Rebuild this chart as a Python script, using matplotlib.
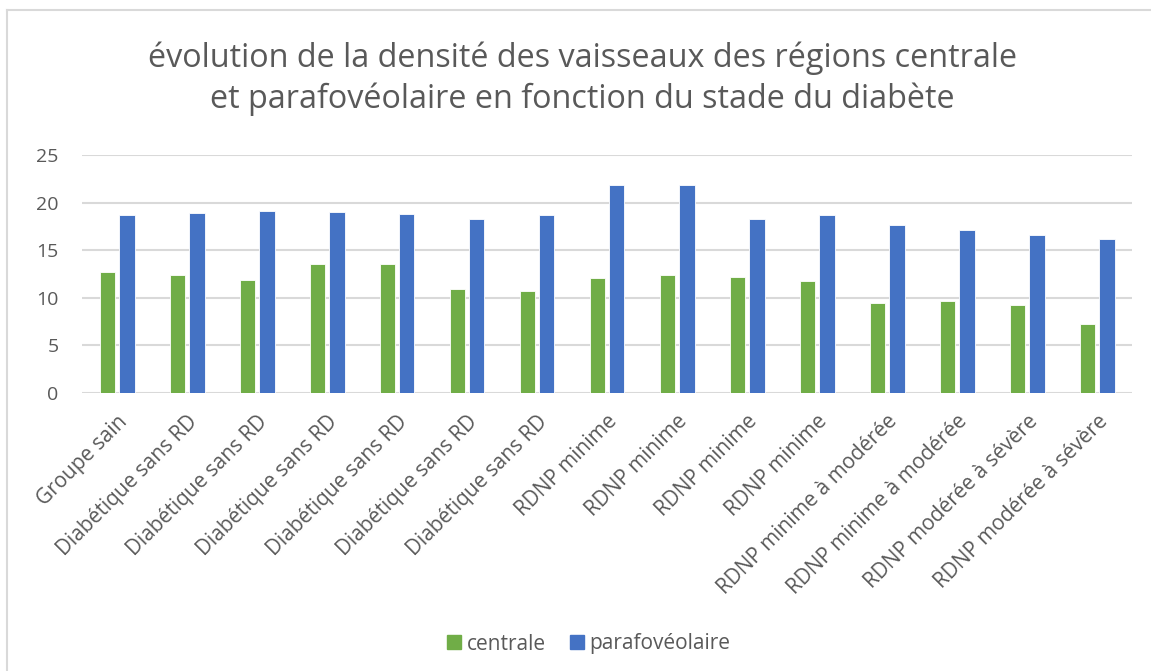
import numpy as np
import matplotlib.pyplot as plt
from matplotlib.lines import Line2D

plt.rcParams['font.family'] = ['Open Sans', 'DejaVu Sans']

categories = ['Groupe sain', 'Diabétique sans RD', 'Diabétique sans RD',
              'Diabétique sans RD', 'Diabétique sans RD', 'Diabétique sans RD',
              'Diabétique sans RD', 'RDNP minime', 'RDNP minime', 'RDNP minime',
              'RDNP minime', 'RDNP minime à modérée', 'RDNP minime à modérée',
              'RDNP modérée à sévère', 'RDNP modérée à sévère']
centrale = [12.7, 12.4, 11.9, 13.6, 13.6, 10.9, 10.7, 12.1, 12.4, 12.2,
            11.8, 9.5, 9.7, 9.2, 7.3]
parafoveolaire = [18.7, 18.9, 19.1, 19.0, 18.8, 18.3, 18.7, 21.8, 21.8, 18.3,
                  18.7, 17.6, 17.1, 16.6, 16.2]
yticks = [0, 5, 10, 15, 20, 25]

grey = '#595959'
fig = plt.figure(figsize=(11.51, 6.71), dpi=100)
ax = fig.add_axes([82/1151, 1-393/671, 1050/1151, 238/671])

x = np.arange(len(categories))
w = 0.22
ax.bar(x - 0.14, centrale, w, color='#70AD47', edgecolor='white', linewidth=0.6,
       label='centrale', zorder=3)
ax.bar(x + 0.14, parafoveolaire, w, color='#4472C4', edgecolor='white', linewidth=0.6,
       label='parafovéolaire', zorder=3)

ax.set_xlim(-0.5, len(categories) - 0.5)
ax.set_ylim(0, 25)
ax.set_yticks(yticks)
ax.grid(axis='y', color='#d9d9d9', linewidth=1.5, zorder=0)
for s in ax.spines.values():
    s.set_visible(False)
ax.tick_params(length=0, colors=grey)
ax.tick_params(axis='y', labelsize=14, pad=17)
ax.set_xticks(x)
ax.set_xticklabels(categories, rotation=45, ha='right', rotation_mode='anchor',
                   fontsize=15, color=grey)
ax.tick_params(axis='x', pad=13)

fig.text(0.506, 1-79/671, 'évolution de la densité des vaisseaux des régions centrale\n'
         'et parafovéolaire en fonction du stade du diabète',
         ha='center', va='center', fontsize=23.3, color=grey, linespacing=1.3)

handles = [Line2D([], [], marker='s', linestyle='none', markersize=10,
                  color='#70AD47', label='centrale'),
           Line2D([], [], marker='s', linestyle='none', markersize=10,
                  color='#4472C4', label='parafovéolaire')]
leg = fig.legend(handles=handles, loc='center', bbox_to_anchor=(0.511, 1-644/671),
                 ncol=2, frameon=False, fontsize=15, handlelength=0.8,
                 handletextpad=0.2, columnspacing=1.1)
for t in leg.get_texts():
    t.set_color(grey)

# chart border (left and top visible)
fig.add_artist(Line2D([7/1151, 7/1151], [0, 1-10/671], color='#d9d9d9', lw=1.5))
fig.add_artist(Line2D([7/1151, 1], [1-10/671, 1-10/671], color='#d9d9d9', lw=1.5))

fig.savefig('out.png', dpi=100)
